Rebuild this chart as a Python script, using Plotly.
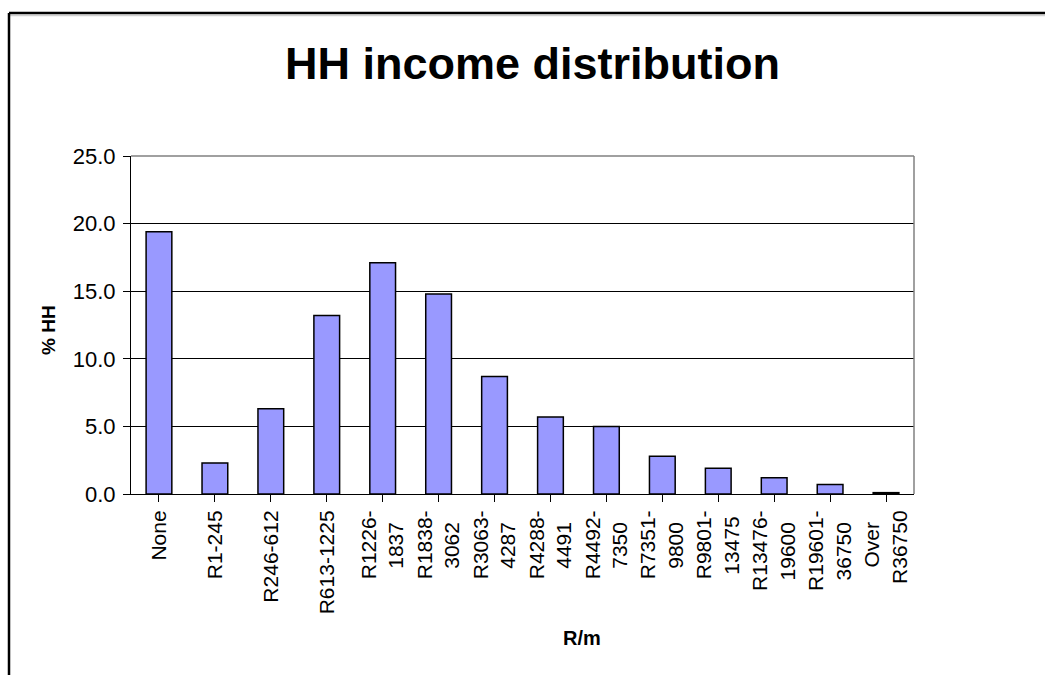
import plotly.graph_objects as go

categories = ["None", "R1-245", "R246-612", "R613-1225", "R1226-<br>1837", "R1838-<br>3062",
              "R3063-<br>4287", "R4288-<br>4491", "R4492-<br>7350", "R7351-<br>9800",
              "R9801-<br>13475", "R13476-<br>19600", "R19601-<br>36750", "Over<br>R36750"]
values = [19.4, 2.3, 6.3, 13.2, 17.1, 14.8, 8.7, 5.7, 5.0, 2.8, 1.9, 1.2, 0.7, 0.1]
title_text = "HH income distribution"
x_title = "R/m"
y_title = "% HH"

W, H = 1045, 675
L, R, T, B = 131, 914, 156, 494
FONT = "Arial, Liberation Sans, sans-serif"

def px_x(p):
    return (p - L) / (R - L)

def px_y(p):
    return (B - p) / (B - T)

def center_lines(label):
    # rotated labels are end-anchored; pad shorter lines so lines look centred
    lines = label.split("<br>")
    longest = max(len(s) for s in lines)
    return "<br>".join(s + "\u00a0" * (longest - len(s)) for s in lines)

ticktext = [center_lines(c) for c in categories]
xs = list(range(len(categories)))

fig = go.Figure(go.Bar(
    x=xs, y=values,
    marker=dict(color="#9999FF", line=dict(color="black", width=1.5)),
))

fig.update_layout(
    width=W, height=H,
    margin=dict(l=L, r=W - R, t=T, b=H - B, pad=0),
    paper_bgcolor="white", plot_bgcolor="white",
    bargap=0.54,
    showlegend=False,
    font=dict(family=FONT, color="black"),
    xaxis=dict(
        tickmode="array", tickvals=xs, ticktext=ticktext,
        tickangle=-90, tickfont=dict(size=21, family=FONT),
        ticks="outside", ticklen=7, tickcolor="black", tickwidth=1,
        tickson="boundaries",
        showline=True, linecolor="black", linewidth=1,
        showgrid=False, range=[-0.5, len(categories) - 0.5],
    ),
    yaxis=dict(
        range=[0, 25], dtick=5, tickformat=".1f",
        tickfont=dict(size=22, family=FONT),
        ticks="outside", ticklen=7, tickcolor="black", tickwidth=1,
        ticklabelstandoff=3,
        showline=True, linecolor="black", linewidth=1,
        showgrid=True, gridcolor="black", gridwidth=1,
        zeroline=False,
    ),
    shapes=[
        # plot area border (gray, top & right)
        dict(type="line", xref="paper", yref="paper", x0=0, x1=1, y0=1, y1=1,
             line=dict(color="#808080", width=1.5)),
        dict(type="line", xref="paper", yref="paper", x0=1, x1=1, y0=0, y1=1,
             line=dict(color="#808080", width=1.5)),
        # chart area outer border
        dict(type="line", xref="paper", yref="paper", x0=px_x(10), x1=px_x(1060),
             y0=px_y(15.5), y1=px_y(15.5), line=dict(color="#d0d0d0", width=1.5)),
        dict(type="line", xref="paper", yref="paper", x0=px_x(9), x1=px_x(1060),
             y0=px_y(13), y1=px_y(13), line=dict(color="black", width=2.5)),
        dict(type="line", xref="paper", yref="paper", x0=px_x(9), x1=px_x(9),
             y0=px_y(13), y1=px_y(690), line=dict(color="black", width=2.5)),
    ],
    annotations=[
        dict(text="<b>" + title_text + "</b>", xref="paper", yref="paper",
             x=px_x(532), y=px_y(63), xanchor="center", yanchor="middle",
             showarrow=False, font=dict(size=45, family=FONT, color="black")),
        dict(text="<b>" + y_title + "</b>", xref="paper", yref="paper",
             x=px_x(48), y=px_y(330), xanchor="center", yanchor="middle",
             textangle=-90, showarrow=False, font=dict(size=19, family=FONT, color="black")),
        dict(text="<b>" + x_title + "</b>", xref="paper", yref="paper",
             x=px_x(582), y=px_y(638), xanchor="center", yanchor="middle",
             showarrow=False, font=dict(size=20, family=FONT, color="black")),
    ],
)

fig.write_html("out.html")
